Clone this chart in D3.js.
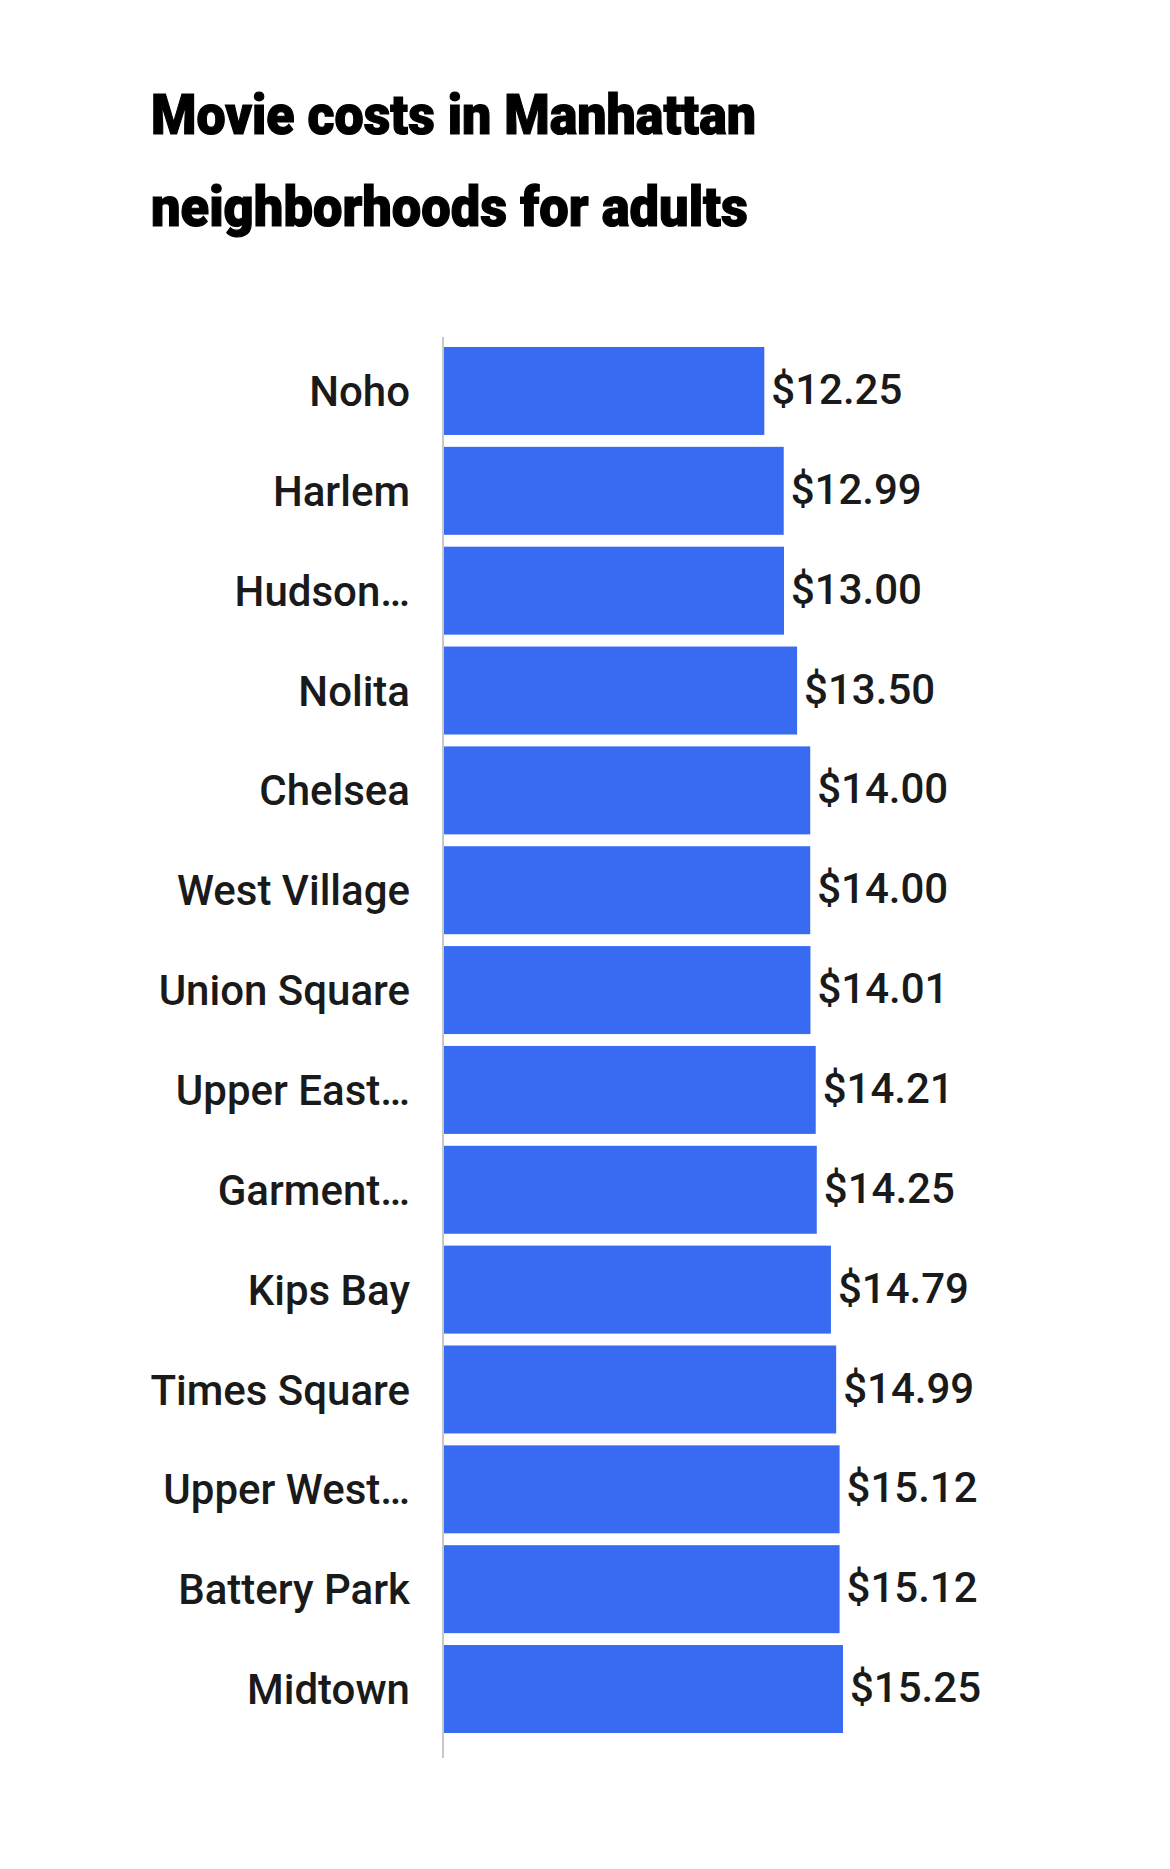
<!DOCTYPE html>
<html>
<head>
<meta charset="utf-8">
<script src="https://cdn.jsdelivr.net/npm/d3@7"></script>
<style>
  body { margin: 0; background: #fff; }
  svg { display: block; }
</style>
</head>
<body>
<div id="chart"></div>
<script>
// data
const neighborhoods = ["Noho", "Harlem", "Hudson…", "Nolita", "Chelsea", "West Village",
  "Union Square", "Upper East…", "Garment…", "Kips Bay", "Times Square",
  "Upper West…", "Battery Park", "Midtown"];
const prices = [12.25, 12.99, 13.00, 13.50, 14.00, 14.00, 14.01, 14.21, 14.25, 14.79,
  14.99, 15.12, 15.12, 15.25];
const titleLines = ["Movie costs in Manhattan", "neighborhoods for adults"];

const width = 1170;
const height = 1869;
const left = 443;

const svg = d3.select("#chart")
    .append("svg")
    .attr("width", width)
    .attr("height", height);

// title
svg.append("g")
    .selectAll("text")
    .data(titleLines)
    .enter().append("text")
    .attr("x", 151)
    .attr("y", (d, i) => 134 + i * 92)
    .attr("textLength", (d, i) => i === 0 ? 605 : 597)
    .attr("lengthAdjust", "spacingAndGlyphs")
    .style("font-family", "Roboto, sans-serif")
    .style("font-weight", 900)
    .style("font-size", "55px")
    .style("fill", "#000")
    .style("stroke", "#000")
    .style("stroke-width", 1.2)
    .text(d => d);

const x = d3.scaleLinear()
    .domain([0, d3.max(prices)])
    .range([left, left + 400]);

const y = d3.scaleBand()
    .domain(neighborhoods)
    .range([341, 1739])
    .paddingInner(0.119)
    .paddingOuter(0.06);

const rows = neighborhoods.map((n, i) => ({ name: n, price: prices[i] }));

svg.append("g")
    .selectAll("rect")
    .data(rows)
    .enter().append("rect")
    .attr("x", x(0) + 1)
    .attr("y", d => y(d.name))
    .attr("width", d => x(d.price) - x(0) - 1)
    .attr("height", y.bandwidth())
    .attr("fill", "#386bf2");

// axis line on the left
svg.append("line")
    .attr("x1", x(0)).attr("x2", x(0))
    .attr("y1", 337).attr("y2", 1758)
    .attr("stroke", "#c8c8c8")
    .attr("stroke-width", 2);

// category labels
svg.append("g")
    .selectAll("text")
    .data(rows)
    .enter().append("text")
    .attr("x", 410)
    .attr("y", d => y(d.name) + y.bandwidth() / 2)
    .attr("dy", "0.36em")
    .attr("text-anchor", "end")
    .style("font-family", "Roboto, sans-serif")
    .style("font-weight", 500)
    .style("font-size", "42px")
    .style("fill", "#1a1a1a")
    .text(d => d.name);

// value labels
svg.append("g")
    .selectAll("text")
    .data(rows)
    .enter().append("text")
    .attr("x", d => x(d.price) + 7)
    .attr("y", d => y(d.name) + y.bandwidth() / 2 - 2)
    .attr("dy", "0.36em")
    .style("font-family", "Roboto, sans-serif")
    .style("font-weight", 500)
    .style("font-size", "42px")
    .style("fill", "#1a1a1a")
    .text(d => "$" + d.price.toFixed(2));
</script>
</body>
</html>
